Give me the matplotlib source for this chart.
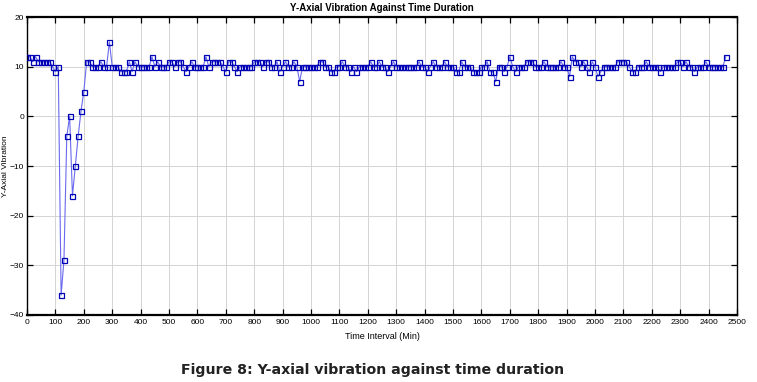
#!/usr/bin/env python3
"""Y-axial vibration against time duration (MATLAB-style line plot)."""

import numpy as np
import matplotlib
matplotlib.use('Agg')
import matplotlib.pyplot as plt

# ------------------------------------------------------------
# Data: one reading every 10 minutes
# ------------------------------------------------------------
step_min = 10
y_vib = [
    12, 12, 11, 12, 11, 11, 11, 11, 11, 10,      # 0-90
    9, 10, -36, -29, -4, 0, -16, -10, -4, 1,     # 100-190
    5, 11, 11, 10, 10, 10, 11, 10, 10, 15,       # 200-290
    10, 10, 10, 9, 9, 9, 11, 9, 11, 10,          # 300-390
    10, 10, 10, 10, 12, 10, 11, 10, 10, 10,      # 400-490
    11, 11, 10, 11, 11, 10, 9, 10, 11, 10,       # 500-590
    10, 10, 10, 12, 10, 11, 11, 11, 11, 10,      # 600-690
    9, 11, 11, 10, 9, 10, 10, 10, 10, 10,        # 700-790
    11, 11, 11, 10, 11, 11, 10, 10, 11, 9,       # 800-890
    10, 11, 10, 10, 11, 10, 7, 10, 10, 10,       # 900-990
    10, 10, 10, 11, 11, 10, 10, 9, 9, 10,        # 1000-1090
    10, 11, 10, 10, 9, 10, 9, 10, 10, 10,        # 1100-1190
    10, 11, 10, 10, 11, 10, 10, 9, 10, 11,       # 1200-1290
    10, 10, 10, 10, 10, 10, 10, 10, 11, 10,      # 1300-1390
    10, 9, 10, 11, 10, 10, 10, 11, 10, 10,       # 1400-1490
    10, 9, 9, 11, 10, 10, 10, 9, 9, 9,           # 1500-1590
    10, 10, 11, 9, 9, 7, 10, 10, 9, 10,          # 1600-1690
    12, 10, 9, 10, 10, 10, 11, 11, 11, 10,       # 1700-1790
    10, 10, 11, 10, 10, 10, 10, 10, 11, 10,      # 1800-1890
    10, 8, 12, 11, 11, 10, 11, 10, 9, 11,        # 1900-1990
    10, 8, 9, 10, 10, 10, 10, 10, 11, 11,        # 2000-2090
    11, 11, 10, 9, 9, 10, 10, 10, 11, 10,        # 2100-2190
    10, 10, 10, 9, 10, 10, 10, 10, 10, 11,       # 2200-2290
    11, 10, 11, 10, 10, 9, 10, 10, 10, 11,       # 2300-2390
    10, 10, 10, 10, 10, 10, 12,                  # 2400-2460
]
t_min = np.arange(len(y_vib)) * step_min

x_ticks = np.arange(0, 2501, 100)
y_ticks = np.arange(-40, 21, 10)

narrow = ['Liberation Sans Narrow', 'Liberation Sans', 'DejaVu Sans']

# ------------------------------------------------------------
# Figure
# ------------------------------------------------------------
fig = plt.figure(figsize=(7.57, 3.82), dpi=100)
ax = fig.add_axes([0.0357, 0.1754, 0.938, 0.780])

ax.plot(t_min, y_vib, '-', color='#6a6aee', lw=0.8, zorder=2)
ax.plot(t_min, y_vib, 's', ms=3.6, mfc='none', mec='#0000b4', mew=0.9, zorder=3)

ax.set_xlim(0, 2500)
ax.set_ylim(-40, 20)
ax.set_xticks(x_ticks)
ax.set_yticks(y_ticks)
ax.tick_params(direction='in', length=4, width=0.9, top=True, right=True,
               labelsize=6, pad=3)
ax.tick_params(axis='y', pad=2)
for lab in ax.get_xticklabels() + ax.get_yticklabels():
    lab.set_family(narrow)

ax.grid(True, color='#d4d4d4', lw=0.7)
ax.set_axisbelow(True)
for s in ax.spines.values():
    s.set_linewidth(1.0)
ax.spines['top'].set_linewidth(1.6)
ax.spines['bottom'].set_linewidth(1.6)

ax.set_title('Y-Axial Vibration Against Time Duration', fontsize=7,
             fontweight='bold', family=narrow, pad=4)
ax.set_xlabel('Time Interval (Min)', fontsize=6.5, family=narrow, labelpad=4)
# y label placed by hand so it stays inside the figure
fig.text(5.5 / 757, 0.565, 'Y-Axial Vibration', rotation=90, ha='center',
         va='center', fontsize=6, family=narrow)

fig.text(0.492, 0.032, 'Figure 8: Y-axial vibration against time duration',
         ha='center', va='center', fontsize=10.2, fontweight='bold',
         family='DejaVu Sans', color='#222222')

fig.savefig('out.png', dpi=100)
